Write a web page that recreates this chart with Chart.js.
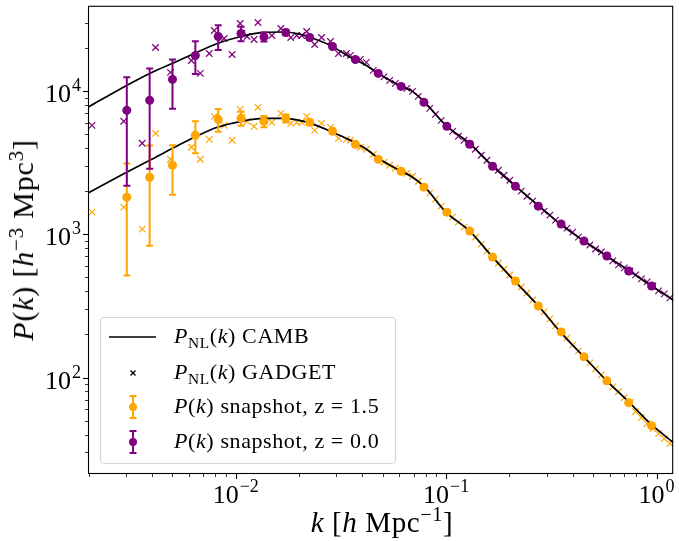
<!DOCTYPE html>
<html>
<head>
<meta charset="utf-8">
<script src="https://cdn.jsdelivr.net/npm/chart.js@4.4.0/dist/chart.umd.min.js"></script>
<style>
body { margin: 0; background: #fff; }
#wrap { position: relative; width: 679px; height: 541px; font-family: "Liberation Serif", serif; color: #000; }
#c { position: absolute; left: 0; top: 0; }
sup { font-size: 0.7em; vertical-align: 0.5em; line-height: 0; }
sub { font-size: 0.7em; vertical-align: -0.3em; line-height: 0; }
.ylab { position: absolute; left: 23px; top: 240px; transform: translate(-50%, -50%) rotate(-90deg); font-size: 30px; letter-spacing: 0.8px; white-space: nowrap; }
.xlab { position: absolute; left: 382px; top: 522px; transform: translate(-50%, -50%); font-size: 29px; letter-spacing: 0.6px; white-space: nowrap; }
.legend { position: absolute; left: 100px; top: 317px; width: 296px; height: 147px; box-sizing: border-box;
  border: 1px solid #d5d5d5; border-radius: 4px; background: rgba(255,255,255,0.8); }
.row { position: absolute; left: 0; height: 30px; width: 100%; }
.row svg { position: absolute; left: 6px; top: 0; }
.row span { position: absolute; left: 73px; top: 50%; transform: translateY(-52%); font-size: 22px; letter-spacing: 0.6px; white-space: nowrap; }
</style>
</head>
<body>
<div id="wrap">
  <canvas id="c" width="679" height="541"></canvas>
  <div class="ylab"><i>P</i>(<i>k</i>) [<i>h</i><sup>−3</sup> Mpc<sup>3</sup>]</div>
  <div class="xlab"><i>k</i> [<i>h</i> Mpc<sup>−1</sup>]</div>
  <div class="legend">
    <div class="row" style="top:4px">
      <svg width="52" height="30"><line x1="2" y1="15" x2="49" y2="15" stroke="#000" stroke-width="1.7"/></svg>
      <span><i>P</i><sub>NL</sub>(<i>k</i>) CAMB</span>
    </div>
    <div class="row" style="top:40px">
      <svg width="52" height="30"><path d="M23.5 12.5 L28.5 17.5 M28.5 12.5 L23.5 17.5" stroke="#000" stroke-width="1.3"/></svg>
      <span><i>P</i><sub>NL</sub>(<i>k</i>) GADGET</span>
    </div>
    <div class="row" style="top:74px">
      <svg width="52" height="30"><path d="M26 4 L26 26 M22.5 4 L29.5 4 M22.5 26 L29.5 26" stroke="#FFA500" stroke-width="2"/><circle cx="26" cy="15" r="4" fill="#FFA500"/></svg>
      <span><i>P</i>(<i>k</i>) snapshot, z = 1.5</span>
    </div>
    <div class="row" style="top:109px">
      <svg width="52" height="30"><path d="M26 4 L26 26 M22.5 4 L29.5 4 M22.5 26 L29.5 26" stroke="#800080" stroke-width="2"/><circle cx="26" cy="15" r="4" fill="#800080"/></svg>
      <span><i>P</i>(<i>k</i>) snapshot, z = 0.0</span>
    </div>
  </div>
</div>
<script>
// CAMB non-linear spectra
const kCamb = [0.00198, 0.00297, 0.00399, 0.00512, 0.00636, 0.00817, 0.0106, 0.0136, 0.0169, 0.0195,
  0.0227, 0.0282, 0.0351, 0.0418, 0.0476, 0.0611, 0.0681, 0.0793, 0.0997, 0.1294,
  0.1662, 0.2135, 0.2772, 0.3484, 0.4519, 0.5804, 0.7454, 0.9471, 1.203];
const pCambZ0 = [7690, 10780, 13500, 15850, 18310, 21490, 24060, 25660, 25860, 25240,
  23670, 20820, 17180, 15110, 13290, 10780, 10110, 8343, 5768, 4320,
  2988, 2167, 1573, 1178, 897, 705, 554, 435.5, 347.9];
const pCambZ15 = [1935, 2670, 3342, 4053, 4757, 5585, 6150, 6452, 6452, 6297,
  5954, 5239, 4533, 3925, 3396, 2757, 2544, 2133, 1428, 1053,
  693.6, 464.4, 311.0, 208.3, 139.4, 94.8, 66.6, 46.8, 35.1];

// GADGET spectra (crosses)
const kGadget = [0.002074, 0.002938, 0.003593, 0.004161, 0.004899, 0.006155, 0.006788, 0.007486, 0.007907, 0.008815,
  0.009616, 0.01050, 0.01070, 0.01132, 0.01222, 0.01276, 0.01485, 0.01639, 0.01827, 0.01950,
  0.02059, 0.02174, 0.02372, 0.02559, 0.02822, 0.03079, 0.03359, 0.03509, 0.03913, 0.04176, 0.04506,
  0.05064, 0.05392, 0.05740, 0.06110, 0.06505, 0.06925, 0.07373, 0.07849, 0.08356, 0.08896,
  0.09471, 0.1008, 0.1073, 0.1143, 0.1216, 0.1295, 0.1379, 0.1468, 0.1562, 0.1663,
  0.1771, 0.1885, 0.2007, 0.2137, 0.2275, 0.2422, 0.2578, 0.2745, 0.2922, 0.3111,
  0.3312, 0.3526, 0.3754, 0.3996, 0.4254, 0.4529, 0.4822, 0.5133, 0.5465, 0.5818,
  0.6194, 0.6594, 0.7020, 0.7473, 0.7956, 0.8470, 0.9017, 0.9600, 1.022, 1.088, 1.158];
const pGadgetZ0 = [5768, 6153, 4320, 20160, 13500, 16360, 13290, 18310, 26490, 23290,
  18020, 29640, 25240, 24060, 22930, 30110, 24450, 27350, 23670, 24450,
  24450, 26060, 21160, 23670, 22200, 18310, 18310, 17740, 16630, 15850, 13940,
  12560, 11870, 11320, 10780, 10440, 9952, 9184, 8343, 7575, 6880,
  6248, 5675, 5237, 4834, 4533, 4252, 3925, 3564, 3289, 2988,
  2802, 2586, 2385, 2167, 2000, 1845, 1703, 1573, 1451, 1361,
  1256, 1178, 1104, 1035, 955.1, 897, 842.1, 789.9, 752.8, 705,
  651.7, 611.1, 582.3, 554, 520.5, 488.2, 465.3, 435.5, 402.6, 383.7, 359.7];
const pGadgetZ15 = [1428, 1547, 1087, 5072, 3342, 4053, 3342, 4606, 6665, 5768,
  4533, 7456, 6559, 6150, 5675, 7700, 6051, 6993, 5954, 6051,
  6051, 6665, 5323, 5954, 5585, 4681, 4606, 4533, 4053, 3925, 3622,
  3185, 3035, 2892, 2757, 2670, 2544, 2347, 2133, 1937, 1759,
  1573, 1428, 1318, 1216, 1122, 1053, 955.1, 854.3, 763.7, 693.6,
  630.1, 572.2, 519.7, 472, 428.5, 389.3, 347.9, 316, 287.0, 256.5,
  229.2, 208.3, 189.1, 169.0, 153.5, 139.4, 126.6, 115.0, 104.4, 94.8,
  86.13, 79.5, 72.2, 66.6, 57.77, 52.46, 47.65, 43.97, 40.59, 37.46, 34.57];

// snapshot spectra with errors
const kSnap = [0.003037, 0.003899, 0.005007, 0.00643, 0.008256, 0.0106, 0.01362, 0.0173, 0.02246, 0.02884,
  0.03704, 0.04757, 0.06109, 0.07844, 0.1008, 0.1294, 0.1662, 0.2135, 0.2741, 0.352,
  0.4519, 0.5804, 0.7373, 0.9471];
const pSnapZ0 = [7336, 8614, 12060, 17730, 24060, 25240, 23920, 25660, 23670, 20490,
  16630, 13290, 10780, 8343, 5675, 4252, 2988, 2167, 1573, 1178,
  897, 705, 554, 435.5];
const errSnapZ0 = [5150, 5750, 4530, 4560, 4740, 2930, 1750, 1150, 800, 550,
  380, 260, 180, 120, 80, 50, 35, 22, 15, 10, 7, 5, 3, 2];
const pSnapZ15 = [1816, 2503, 3035, 4913, 6349, 6452, 6150, 6452, 6051, 5239,
  4252, 3342, 2757, 2133, 1428, 1053, 693.6, 472, 316, 208.3,
  139.4, 94.8, 66.6, 46.1];
const errSnapZ15 = [1300, 1670, 1150, 1235, 1150, 715, 550, 415, 280, 190,
  130, 90, 60, 40, 27, 18, 12, 8, 5, 3.5, 2.4, 1.6, 1.1, 0.8];

const xTickPowers = [-2, -1, 0];
const yTickPowers = [2, 3, 4];

const PURPLE = '#800080';
const ORANGE = '#FFA500';
const FONT = '"Liberation Serif", serif';

function pts(xs, ys) { return xs.map((x, i) => ({ x: x, y: ys[i] })); }

// error bars drawn under the snapshot markers
const errorBars = {
  id: 'errorBars',
  beforeDatasetDraw(chart, args) {
    const ds = chart.data.datasets[args.index];
    if (!ds.errors) return;
    const ctx = chart.ctx, a = chart.chartArea;
    const xs = chart.scales.x, ys = chart.scales.y;
    ctx.save();
    ctx.beginPath();
    ctx.rect(a.left, a.top, a.right - a.left, a.bottom - a.top);
    ctx.clip();
    ctx.strokeStyle = ds.backgroundColor;
    ctx.lineWidth = 2;
    ds.data.forEach((p, i) => {
      const e = ds.errors[i];
      const px = xs.getPixelForValue(p.x);
      const top = ys.getPixelForValue(p.y + e);
      const lo = p.y - e > 0 ? ys.getPixelForValue(p.y - e) : a.bottom + 10;
      ctx.beginPath();
      ctx.moveTo(px, top); ctx.lineTo(px, lo);
      ctx.moveTo(px - 3.5, top); ctx.lineTo(px + 3.5, top);
      ctx.moveTo(px - 3.5, lo); ctx.lineTo(px + 3.5, lo);
      ctx.stroke();
    });
    ctx.restore();
  }
};

function drawPow(ctx, p, x, base, align) {
  const e = p < 0 ? '\u2212' + (-p) : String(p);
  ctx.font = '26px ' + FONT;
  const wb = ctx.measureText('10').width;
  ctx.font = '18px ' + FONT;
  const we = ctx.measureText(e).width;
  const w = wb + we + 1;
  const x0 = align === 'right' ? x - w : x - w / 2;
  ctx.font = '26px ' + FONT;
  ctx.fillText('10', x0, base);
  ctx.font = '18px ' + FONT;
  ctx.fillText(e, x0 + wb + 1, base - 11);
}

// frame, log ticks and tick labels in matplotlib style
const axesDraw = {
  id: 'axesDraw',
  afterDraw(chart) {
    const ctx = chart.ctx, a = chart.chartArea;
    const xs = chart.scales.x, ys = chart.scales.y;
    ctx.save();
    ctx.strokeStyle = '#000';
    ctx.fillStyle = '#000';
    for (let d = -3; d <= 1; d++) {
      for (let m = 1; m <= 9; m++) {
        const v = m * Math.pow(10, d);
        if (v < xs.min || v > xs.max) continue;
        const px = Math.round(xs.getPixelForValue(v)) + 0.5;
        ctx.lineWidth = m === 1 ? 1.1 : 0.8;
        ctx.beginPath();
        ctx.moveTo(px, a.bottom);
        ctx.lineTo(px, a.bottom + (m === 1 ? 5 : 3));
        ctx.stroke();
      }
    }
    for (let d = 0; d <= 5; d++) {
      for (let m = 1; m <= 9; m++) {
        const v = m * Math.pow(10, d);
        if (v < ys.min || v > ys.max) continue;
        const py = Math.round(ys.getPixelForValue(v)) + 0.5;
        ctx.lineWidth = m === 1 ? 1.1 : 0.8;
        ctx.beginPath();
        ctx.moveTo(a.left, py);
        ctx.lineTo(a.left - (m === 1 ? 5 : 3), py);
        ctx.stroke();
      }
    }
    ctx.lineWidth = 1.1;
    ctx.strokeRect(a.left + 0.5, a.top + 0.5, a.right - a.left - 1, a.bottom - a.top - 1);
    ctx.textBaseline = 'alphabetic';
    xTickPowers.forEach(p => drawPow(ctx, p, xs.getPixelForValue(Math.pow(10, p)), a.bottom + 29, 'center'));
    yTickPowers.forEach(p => drawPow(ctx, p, a.left - 7, ys.getPixelForValue(Math.pow(10, p)) + 11, 'right'));
    ctx.restore();
  }
};

const ctx = document.getElementById('c').getContext('2d');
new Chart(ctx, {
  type: 'scatter',
  data: {
    datasets: [
      {
        label: 'CAMB z=0',
        data: pts(kCamb, pCambZ0),
        showLine: true, borderColor: '#000', borderWidth: 1.7, pointRadius: 0,
        cubicInterpolationMode: 'monotone', order: 2
      },
      {
        label: 'CAMB z=1.5',
        data: pts(kCamb, pCambZ15),
        showLine: true, borderColor: '#000', borderWidth: 1.7, pointRadius: 0,
        cubicInterpolationMode: 'monotone', order: 2
      },
      {
        label: 'GADGET z=0',
        data: pts(kGadget, pGadgetZ0),
        pointStyle: 'crossRot', pointRadius: 4.6, borderColor: PURPLE, borderWidth: 1.2, order: 3
      },
      {
        label: 'GADGET z=1.5',
        data: pts(kGadget, pGadgetZ15),
        pointStyle: 'crossRot', pointRadius: 4.6, borderColor: ORANGE, borderWidth: 1.2, order: 3
      },
      {
        label: 'snapshot z=1.5',
        data: pts(kSnap, pSnapZ15),
        errors: errSnapZ15,
        pointRadius: 4.5, backgroundColor: ORANGE, borderColor: ORANGE, borderWidth: 0, order: 1
      },
      {
        label: 'snapshot z=0.0',
        data: pts(kSnap, pSnapZ0),
        errors: errSnapZ0,
        pointRadius: 4.5, backgroundColor: PURPLE, borderColor: PURPLE, borderWidth: 0, order: 0
      }
    ]
  },
  options: {
    responsive: false,
    animation: false,
    events: [],
    layout: { padding: { top: 5, right: 2, left: 0, bottom: 0 } },
    plugins: { legend: { display: false }, tooltip: { enabled: false } },
    scales: {
      x: {
        type: 'logarithmic', min: 0.001986, max: 1.2,
        ticks: { display: false }, grid: { display: false }, border: { display: false },
        afterFit: s => { s.height = 67; }
      },
      y: {
        type: 'logarithmic', min: 21.2, max: 39400,
        ticks: { display: false }, grid: { display: false }, border: { display: false },
        afterFit: s => { s.width = 88; }
      }
    }
  },
  plugins: [errorBars, axesDraw]
});
</script>
</body>
</html>
